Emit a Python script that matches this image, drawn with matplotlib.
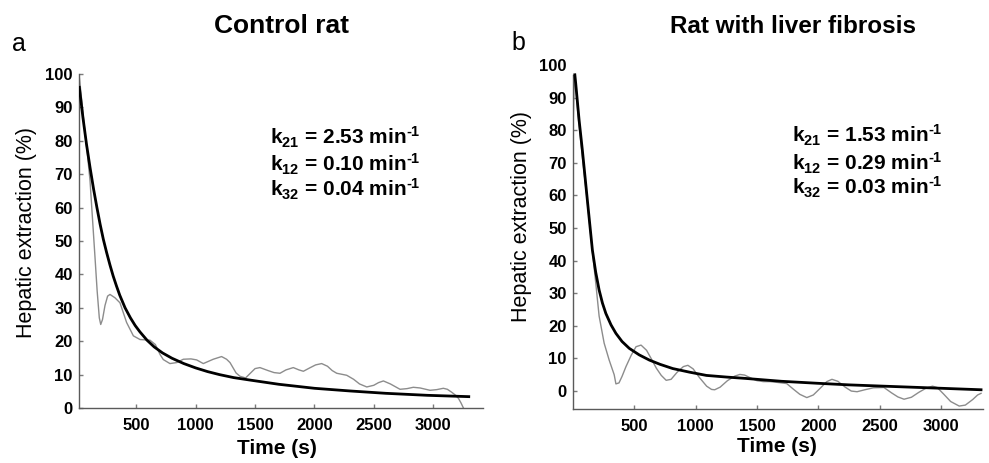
import matplotlib
matplotlib.use('Agg')
import matplotlib.pyplot as plt

plt.rcParams['font.family'] = ['Liberation Sans', 'DejaVu Sans']
plt.rcParams['mathtext.fontset'] = 'custom'
plt.rcParams['mathtext.rm'] = 'Liberation Sans:bold'
plt.rcParams['mathtext.bf'] = 'Liberation Sans:bold'
plt.rcParams['mathtext.it'] = 'Liberation Sans:bold'
plt.rcParams['mathtext.default'] = 'bf'

# ---------------- data ----------------
panel_letters = ['a', 'b']
panel_titles = ['Control rat', 'Rat with liver fibrosis']
y_label = 'Hepatic extraction (%)'
x_label = 'Time (s)'
x_ticks = [500, 1000, 1500, 2000, 2500, 3000]
y_ticks = [0, 10, 20, 30, 40, 50, 60, 70, 80, 90, 100]

rates_a = ['2.53', '0.10', '0.04']
rates_b = ['1.53', '0.29', '0.03']
rate_names = ['21', '12', '32']

# Control rat: fitted curve
fit_a_t = [20, 50, 80, 110, 140, 168, 195, 222, 250, 278, 305, 333, 360, 405, 450, 490,
           530, 590, 650, 720, 800, 900, 1000, 1100, 1200, 1320, 1450, 1700, 2000,
           2300, 2600, 2950, 3300]
fit_a_v = [96, 87, 79, 72, 65.5, 60, 55, 50.5, 46.5, 42.8, 39.5, 36.5, 33.8, 30, 27, 24.7,
           22.8, 20.3, 18.3, 16.5, 14.9, 13.3, 12.0, 10.9, 10.0, 9.1, 8.4, 7.1, 5.9,
           5.1, 4.4, 3.8, 3.4]
# Control rat: measured curve
meas_a_t = [17, 40, 60, 85, 110, 130, 152, 170, 188, 200, 215, 236, 258, 278, 320, 362,
            418, 475, 531, 615, 660, 700, 727, 783, 840, 896, 960, 1008, 1064, 1148,
            1218, 1260, 1289, 1340, 1373, 1420, 1457, 1500, 1541, 1610, 1660, 1710,
            1760, 1822, 1870, 1907, 1960, 2010, 2061, 2110, 2150, 2188, 2272, 2330,
            2380, 2441, 2500, 2540, 2581, 2640, 2721, 2780, 2833, 2890, 2974, 3030,
            3086, 3120, 3157, 3190, 3213, 3235, 3255]
meas_a_v = [100, 92, 85, 77, 68, 57, 45, 35, 27, 25, 26.5, 30.7, 33.5, 34, 33, 31.5,
            25.6, 21.6, 20.5, 20.3, 19, 16, 14.5, 13.3, 13.6, 14.6, 14.7, 14.4, 13.3,
            14.6, 15.4, 14.6, 13.6, 10.5, 9.5, 9, 10.3, 11.8, 12.1, 11.2, 10.6, 10.4,
            11.4, 12.1, 11.4, 11, 12, 12.9, 13.3, 12.5, 11.2, 10.4, 9.8, 8.6, 7.2, 6.3,
            6.8, 7.6, 8.1, 7.2, 5.6, 5.8, 6.2, 6.0, 5.3, 5.5, 5.9, 5.6, 4.7, 3.8, 2.9,
            1.5, 0]

# Rat with liver fibrosis: fitted curve
fit_b_t = [15, 22, 50, 76, 100, 117, 140, 158, 185, 213, 240, 268, 310, 350, 400, 459,
           540, 623, 710, 814, 950, 1088, 1250, 1400, 1700, 1989, 2250, 2536, 2900, 3328]
fit_b_v = [97, 94.4, 83, 74, 65, 58.6, 50, 43.3, 36.5, 31, 27, 23.8, 20.3, 17.7, 15.2,
           13.1, 11.1, 9.5, 8.2, 6.9, 5.8, 4.8, 4.3, 3.9, 3.0, 2.4, 1.9, 1.5, 1.0, 0.4]
# Rat with liver fibrosis: measured curve
meas_b_t = [0, 8, 15, 40, 76, 117, 158, 186, 213, 254, 295, 336, 350, 375, 400, 432, 475,
            514, 555, 600, 640, 680, 720, 760, 800, 850, 900, 937, 980, 1030, 1090,
            1130, 1156, 1200, 1260, 1320, 1361, 1400, 1450, 1500, 1552, 1607, 1680,
            1743, 1800, 1850, 1907, 1960, 2020, 2070, 2112, 2160, 2220, 2270, 2317,
            2380, 2450, 2536, 2600, 2650, 2700, 2760, 2820, 2880, 2932, 2970, 3020,
            3080, 3150, 3200, 3260, 3300, 3328]
meas_b_v = [80, 92, 97, 85, 72, 58, 43, 33, 23, 14.7, 9.5, 5.0, 2.2, 2.5, 4.5, 7.5, 11,
            13.6, 14.1, 12.5, 9.8, 7, 4.8, 3.3, 3.6, 5.8, 7.5, 7.9, 6.8, 4.2, 1.5, 0.5,
            0.4, 1.2, 3.2, 4.6, 5.1, 4.9, 4.0, 3.2, 2.9, 2.9, 2.6, 2.3, 0.5, -1.0, -2.0,
            -1.2, 1.0, 2.9, 3.6, 3.0, 1.2, 0.0, -0.2, 0.4, 1.0, 1.1, -0.6, -1.8, -2.5,
            -1.9, -0.4, 0.9, 1.5, 1.1, -0.8, -3.2, -4.6, -4.3, -2.6, -1.2, -0.7]

# ---------------- figure ----------------
W, H = 989, 463
fig = plt.figure(figsize=(W / 100, H / 100), dpi=100)


def axes_px(l, t, r, b):
    return fig.add_axes([l / W, 1 - b / H, (r - l) / W, (b - t) / H])


def ftext(x, y, s, **kw):
    fig.text(x / W, 1 - y / H, s, **kw)


SPINE = '#5a5a5a'
TICK = '#7a7a7a'
GREY = '#8c8c8c'


def style(ax, xlim, ylim, spine_top):
    ax.set_xlim(*xlim)
    ax.set_ylim(*ylim)
    for s in ['top', 'right']:
        ax.spines[s].set_visible(False)
    for s in ['left', 'bottom']:
        ax.spines[s].set_color(SPINE)
        ax.spines[s].set_linewidth(1.0)
    ax.spines['left'].set_bounds(ylim[0], spine_top)
    ax.set_xticks(x_ticks)
    ax.set_xticklabels([str(v) for v in x_ticks], fontweight='bold', fontsize=12)
    ax.set_yticks(y_ticks)
    ax.set_yticklabels([str(v) for v in y_ticks], fontweight='bold', fontsize=12)
    ax.tick_params(axis='both', direction='in', length=3, width=1, color=TICK)
    ax.tick_params(axis='x', pad=7.5)
    ax.tick_params(axis='y', pad=4.5)
    ax.patch.set_alpha(0)


ax_a = axes_px(79, 74, 483, 408)
ax_a.plot(meas_a_t, meas_a_v, color=GREY, lw=1.0, zorder=2)
ax_a.plot(fit_a_t, fit_a_v, color='black', lw=2.0, zorder=3)
style(ax_a, (17, 3420), (0, 100), 100)

ax_b = axes_px(573, 65, 983, 409)
ax_b.plot(meas_b_t, meas_b_v, color=GREY, lw=1.0, zorder=2)
ax_b.plot(fit_b_t, fit_b_v, color='black', lw=2.0, zorder=3)
style(ax_b, (0, 3344), (-5.5, 100), 97)
ax_b.yaxis.get_major_ticks()[-1].tick1line.set_visible(False)

# panel letters and titles
ftext(12, 51, panel_letters[0], fontsize=18, ha='left', va='baseline')
ftext(511, 50, panel_letters[1], fontsize=18, ha='left', va='baseline')
ftext(282, 33, panel_titles[0], fontsize=19, fontweight='bold', ha='center', va='baseline')
ftext(793, 33, panel_titles[1], fontsize=17.5, fontweight='bold', ha='center', va='baseline')

# axis labels
ftext(27, 232, y_label, fontsize=15.5, rotation=90, ha='center', va='center')
ftext(521, 217, y_label, fontsize=15.5, rotation=90, ha='center', va='center')
ftext(277, 449, x_label, fontsize=15, fontweight='bold', ha='center', va='center')
ftext(777, 447, x_label, fontsize=15, fontweight='bold', ha='center', va='center')

# rate constants
base_a = [145, 171, 197]
base_b = [143, 170, 195]
for name, val, yb in zip(rate_names, rates_a, base_a):
    ftext(270, yb, r'k$_{%s}$ = %s min$^{\text{-}1}$' % (name, val), fontsize=15,
          fontweight='bold', ha='left', va='baseline')
for name, val, yb in zip(rate_names, rates_b, base_b):
    ftext(792, yb, r'k$_{%s}$ = %s min$^{\text{-}1}$' % (name, val), fontsize=15,
          fontweight='bold', ha='left', va='baseline')

fig.savefig('out.png', dpi=100)
